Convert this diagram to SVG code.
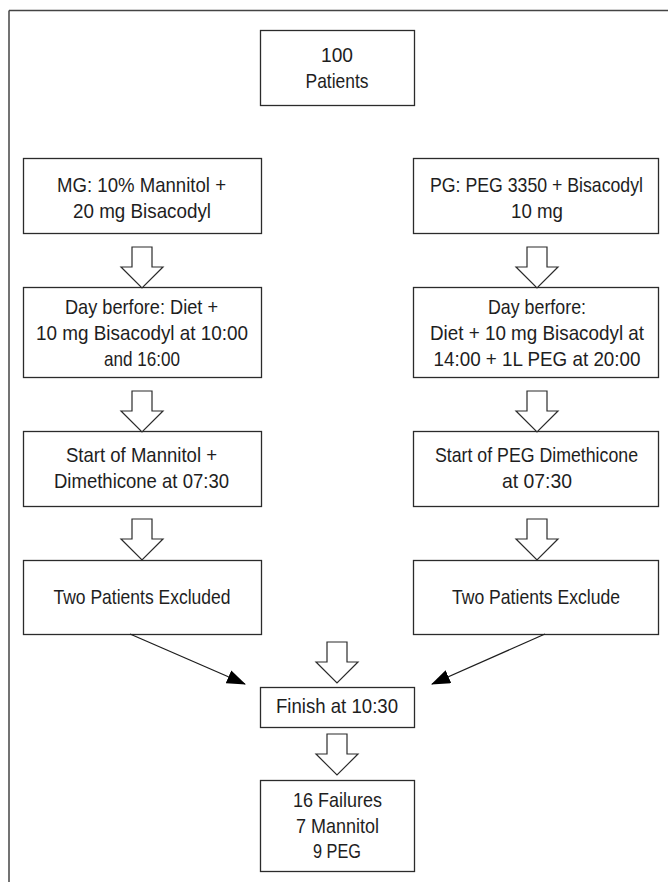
<svg xmlns="http://www.w3.org/2000/svg" width="668" height="882" viewBox="0 0 668 882">
<style>
.box{fill:#fff;stroke:#2b2b2b;stroke-width:1.3}
.t{font-family:"Liberation Sans",Arial,sans-serif;font-size:21px;fill:#1e1e1e;text-anchor:middle}
.blk{fill:#fff;stroke:#2b2b2b;stroke-width:1.2;stroke-linejoin:miter}
.ln{stroke:#1e1e1e;stroke-width:1.3;fill:none}
</style>
<defs>
<marker id="ah" markerWidth="20" markerHeight="14" refX="18" refY="7" orient="auto" markerUnits="userSpaceOnUse">
<path d="M0,0 L19,7 L0,14 Z" fill="#000"/>
</marker>
<path id="barrow" d="M-10,0 H10 V20 H21 L0,41 L-21,20 H-10 Z"/>
</defs>
<g id="frame">
<line x1="9" y1="10.5" x2="668" y2="10.5" stroke="#444" stroke-width="1.5"/>
<line x1="9" y1="10.5" x2="9" y2="882" stroke="#444" stroke-width="1.5"/>
</g>
<g id="n-patients"><rect class="box" x="260.5" y="30.5" width="154" height="75"/>
<text class="t" x="337" y="62" textLength="32" lengthAdjust="spacingAndGlyphs">100</text>
<text class="t" x="337" y="88" textLength="63" lengthAdjust="spacingAndGlyphs">Patients</text></g>
<g id="n-mg"><rect class="box" x="23.5" y="158.5" width="238" height="75"/>
<text class="t" x="141.5" y="192" textLength="169" lengthAdjust="spacingAndGlyphs">MG: 10% Mannitol +</text>
<text class="t" x="142" y="218" textLength="138" lengthAdjust="spacingAndGlyphs">20 mg Bisacodyl</text></g>
<g id="n-pg"><rect class="box" x="413.5" y="158.5" width="245" height="75"/>
<text class="t" x="536.5" y="192" textLength="213" lengthAdjust="spacingAndGlyphs">PG: PEG 3350 + Bisacodyl</text>
<text class="t" x="537" y="218" textLength="52" lengthAdjust="spacingAndGlyphs">10 mg</text></g>
<g id="n-mg-day"><rect class="box" x="23.5" y="287.5" width="238" height="90"/>
<text class="t" x="141.5" y="314" textLength="153" lengthAdjust="spacingAndGlyphs">Day berfore: Diet +</text>
<text class="t" x="142" y="340" textLength="212" lengthAdjust="spacingAndGlyphs">10 mg Bisacodyl at 10:00</text>
<text class="t" x="142" y="366" textLength="76" lengthAdjust="spacingAndGlyphs">and 16:00</text></g>
<g id="n-pg-day"><rect class="box" x="413.5" y="287.5" width="245" height="90"/>
<text class="t" x="537" y="314" textLength="98" lengthAdjust="spacingAndGlyphs">Day berfore:</text>
<text class="t" x="537" y="340" textLength="214" lengthAdjust="spacingAndGlyphs">Diet + 10 mg Bisacodyl at</text>
<text class="t" x="537" y="366" textLength="207" lengthAdjust="spacingAndGlyphs">14:00 + 1L PEG at 20:00</text></g>
<g id="n-mg-start"><rect class="box" x="23.5" y="431.5" width="238" height="75"/>
<text class="t" x="141.5" y="462" textLength="151" lengthAdjust="spacingAndGlyphs">Start of Mannitol +</text>
<text class="t" x="141.5" y="488" textLength="175" lengthAdjust="spacingAndGlyphs">Dimethicone at 07:30</text></g>
<g id="n-pg-start"><rect class="box" x="413.5" y="431.5" width="245" height="75"/>
<text class="t" x="536.5" y="462" textLength="203" lengthAdjust="spacingAndGlyphs">Start of PEG Dimethicone</text>
<text class="t" x="537" y="488" textLength="70" lengthAdjust="spacingAndGlyphs">at 07:30</text></g>
<g id="n-mg-excl"><rect class="box" x="23.5" y="560.5" width="238" height="74"/>
<text class="t" x="142" y="604" textLength="177" lengthAdjust="spacingAndGlyphs">Two Patients Excluded</text></g>
<g id="n-pg-excl"><rect class="box" x="413.5" y="560.5" width="245" height="74"/>
<text class="t" x="536" y="604" textLength="168" lengthAdjust="spacingAndGlyphs">Two Patients Exclude</text></g>
<g id="n-finish"><rect class="box" x="260.5" y="687.5" width="154" height="40"/>
<text class="t" x="337" y="713" textLength="122" lengthAdjust="spacingAndGlyphs">Finish at 10:30</text></g>
<g id="n-failures"><rect class="box" x="260.5" y="780.5" width="154" height="91"/>
<text class="t" x="337.5" y="807" textLength="89" lengthAdjust="spacingAndGlyphs">16 Failures</text>
<text class="t" x="337.5" y="833" textLength="83" lengthAdjust="spacingAndGlyphs">7 Mannitol</text>
<text class="t" x="337" y="858" textLength="48" lengthAdjust="spacingAndGlyphs">9 PEG</text></g>
<g id="connectors">
<use href="#barrow" class="blk" x="142" y="247"/>
<use href="#barrow" class="blk" x="537" y="247"/>
<use href="#barrow" class="blk" x="142" y="391"/>
<use href="#barrow" class="blk" x="537" y="391"/>
<use href="#barrow" class="blk" x="142" y="519"/>
<use href="#barrow" class="blk" x="537" y="519"/>
<use href="#barrow" class="blk" x="337" y="642"/>
<use href="#barrow" class="blk" x="337" y="734"/>
<line class="ln" x1="130" y1="634" x2="245" y2="684" marker-end="url(#ah)"/>
<line class="ln" x1="545" y1="634" x2="432" y2="684" marker-end="url(#ah)"/>
</g>
</svg>
